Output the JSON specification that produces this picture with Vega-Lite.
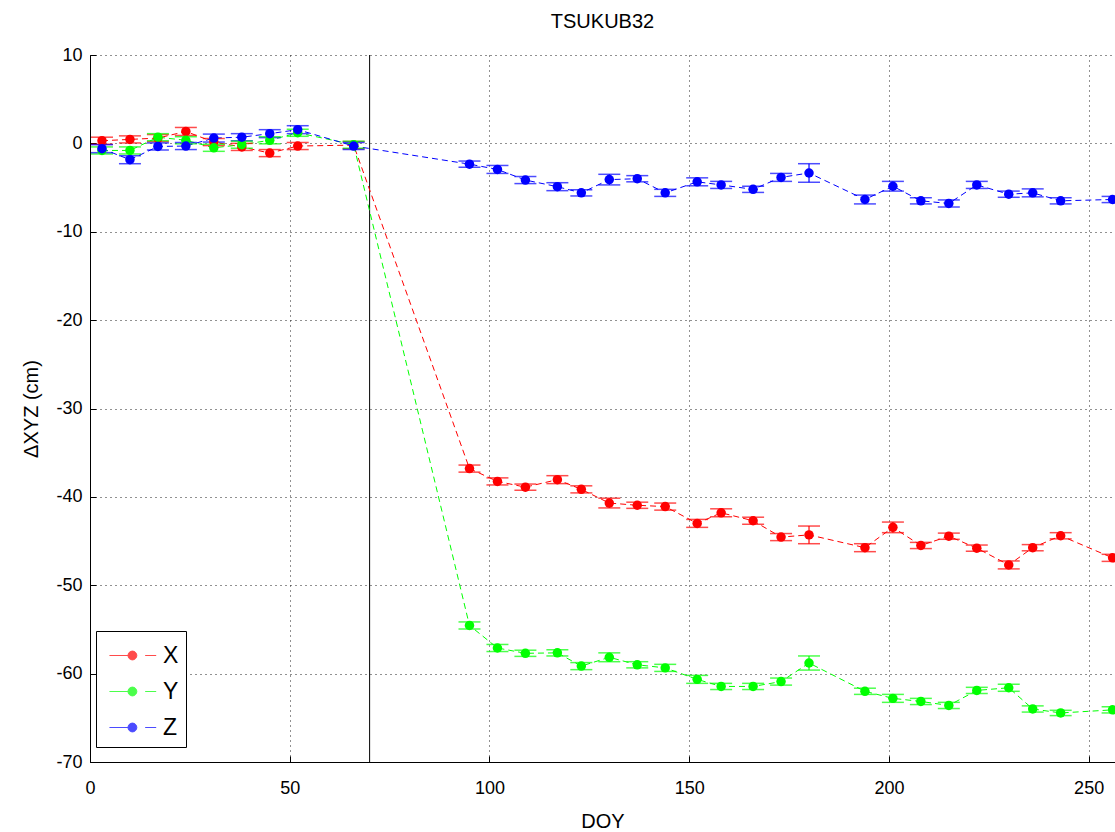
{
  "$schema": "https://vega.github.io/schema/vega-lite/v6.json",
  "width": 1025,
  "height": 707,
  "autosize": "none",
  "padding": {"left": 90, "top": 55, "right": 0, "bottom": 70},
  "background": "white",
  "title": {"text": "TSUKUB32", "font": "Liberation Sans", "fontSize": 20, "fontWeight": "normal", "color": "black", "anchor": "middle", "offset": 14},
  "config": {
    "view": {"stroke": null},
    "font": "Liberation Sans",
    "axis": {
      "labelFont": "Liberation Sans", "labelFontSize": 18, "labelColor": "black",
      "titleFont": "Liberation Sans", "titleFontSize": 20, "titleFontWeight": "normal", "titleColor": "black",
      "domainColor": "black", "domainWidth": 1, "tickColor": "black", "tickSize": -6, "tickWidth": 1,
      "gridColor": "#222222", "gridDash": [1, 4], "gridWidth": 1, "gridOpacity": 1
    }
  },
  "datasets": {
    "pts": [
      {"doy": 3, "comp": "X", "v": 0.3, "e": 0.4},
      {"doy": 10, "comp": "X", "v": 0.45, "e": 0.4},
      {"doy": 17, "comp": "X", "v": 0.6, "e": 0.4},
      {"doy": 24, "comp": "X", "v": 1.35, "e": 0.45},
      {"doy": 31, "comp": "X", "v": 0.15, "e": 0.4},
      {"doy": 38, "comp": "X", "v": -0.4, "e": 0.4},
      {"doy": 45, "comp": "X", "v": -1.1, "e": 0.4},
      {"doy": 52, "comp": "X", "v": -0.3, "e": 0.4},
      {"doy": 66, "comp": "X", "v": -0.2, "e": 0.4},
      {"doy": 95, "comp": "X", "v": -36.8, "e": 0.4},
      {"doy": 102, "comp": "X", "v": -38.25, "e": 0.4},
      {"doy": 109, "comp": "X", "v": -38.9, "e": 0.35},
      {"doy": 117, "comp": "X", "v": -38.05, "e": 0.45},
      {"doy": 123, "comp": "X", "v": -39.15, "e": 0.4},
      {"doy": 130, "comp": "X", "v": -40.7, "e": 0.55},
      {"doy": 137, "comp": "X", "v": -40.95, "e": 0.35},
      {"doy": 144, "comp": "X", "v": -41.1, "e": 0.4},
      {"doy": 152, "comp": "X", "v": -43.0, "e": 0.45},
      {"doy": 158, "comp": "X", "v": -41.8, "e": 0.45},
      {"doy": 166, "comp": "X", "v": -42.7, "e": 0.4},
      {"doy": 173, "comp": "X", "v": -44.55, "e": 0.4},
      {"doy": 180, "comp": "X", "v": -44.3, "e": 1.0},
      {"doy": 194, "comp": "X", "v": -45.75, "e": 0.45},
      {"doy": 201, "comp": "X", "v": -43.45, "e": 0.6},
      {"doy": 208, "comp": "X", "v": -45.5, "e": 0.35},
      {"doy": 215, "comp": "X", "v": -44.45, "e": 0.35},
      {"doy": 222, "comp": "X", "v": -45.8, "e": 0.35},
      {"doy": 230, "comp": "X", "v": -47.7, "e": 0.45},
      {"doy": 236, "comp": "X", "v": -45.75, "e": 0.35},
      {"doy": 243, "comp": "X", "v": -44.4, "e": 0.35},
      {"doy": 256, "comp": "X", "v": -46.9, "e": 0.4},
      {"doy": 3, "comp": "Y", "v": -0.8, "e": 0.4},
      {"doy": 10, "comp": "Y", "v": -0.8, "e": 0.4},
      {"doy": 17, "comp": "Y", "v": 0.7, "e": 0.4},
      {"doy": 24, "comp": "Y", "v": 0.35, "e": 0.4},
      {"doy": 31, "comp": "Y", "v": -0.5, "e": 0.4},
      {"doy": 38, "comp": "Y", "v": -0.15, "e": 0.4},
      {"doy": 45, "comp": "Y", "v": 0.35, "e": 0.4},
      {"doy": 52, "comp": "Y", "v": 1.2, "e": 0.4},
      {"doy": 66, "comp": "Y", "v": -0.15, "e": 0.4},
      {"doy": 95, "comp": "Y", "v": -54.55, "e": 0.4},
      {"doy": 102, "comp": "Y", "v": -57.1, "e": 0.4},
      {"doy": 109, "comp": "Y", "v": -57.7, "e": 0.35},
      {"doy": 117, "comp": "Y", "v": -57.65, "e": 0.35},
      {"doy": 123, "comp": "Y", "v": -59.15, "e": 0.4},
      {"doy": 130, "comp": "Y", "v": -58.15, "e": 0.5},
      {"doy": 137, "comp": "Y", "v": -59.0, "e": 0.35},
      {"doy": 144, "comp": "Y", "v": -59.35, "e": 0.4},
      {"doy": 152, "comp": "Y", "v": -60.65, "e": 0.45},
      {"doy": 158, "comp": "Y", "v": -61.45, "e": 0.35},
      {"doy": 166, "comp": "Y", "v": -61.45, "e": 0.35},
      {"doy": 173, "comp": "Y", "v": -60.9, "e": 0.4},
      {"doy": 180, "comp": "Y", "v": -58.8, "e": 0.8},
      {"doy": 194, "comp": "Y", "v": -62.0, "e": 0.35},
      {"doy": 201, "comp": "Y", "v": -62.8, "e": 0.45},
      {"doy": 208, "comp": "Y", "v": -63.15, "e": 0.35},
      {"doy": 215, "comp": "Y", "v": -63.6, "e": 0.35},
      {"doy": 222, "comp": "Y", "v": -61.9, "e": 0.35},
      {"doy": 230, "comp": "Y", "v": -61.6, "e": 0.4},
      {"doy": 236, "comp": "Y", "v": -64.0, "e": 0.35},
      {"doy": 243, "comp": "Y", "v": -64.45, "e": 0.3},
      {"doy": 256, "comp": "Y", "v": -64.1, "e": 0.35},
      {"doy": 3, "comp": "Z", "v": -0.6, "e": 0.45},
      {"doy": 10, "comp": "Z", "v": -1.85, "e": 0.45},
      {"doy": 17, "comp": "Z", "v": -0.35, "e": 0.4},
      {"doy": 24, "comp": "Z", "v": -0.3, "e": 0.4},
      {"doy": 31, "comp": "Z", "v": 0.6, "e": 0.45},
      {"doy": 38, "comp": "Z", "v": 0.7, "e": 0.4},
      {"doy": 45, "comp": "Z", "v": 1.1, "e": 0.45},
      {"doy": 52, "comp": "Z", "v": 1.55, "e": 0.45},
      {"doy": 66, "comp": "Z", "v": -0.3, "e": 0.4},
      {"doy": 95, "comp": "Z", "v": -2.35, "e": 0.35},
      {"doy": 102, "comp": "Z", "v": -2.95, "e": 0.45},
      {"doy": 109, "comp": "Z", "v": -4.15, "e": 0.4},
      {"doy": 117, "comp": "Z", "v": -4.9, "e": 0.45},
      {"doy": 123, "comp": "Z", "v": -5.6, "e": 0.35},
      {"doy": 130, "comp": "Z", "v": -4.1, "e": 0.6},
      {"doy": 137, "comp": "Z", "v": -4.0, "e": 0.35},
      {"doy": 144, "comp": "Z", "v": -5.6, "e": 0.4},
      {"doy": 152, "comp": "Z", "v": -4.35, "e": 0.45},
      {"doy": 158, "comp": "Z", "v": -4.7, "e": 0.4},
      {"doy": 166, "comp": "Z", "v": -5.2, "e": 0.35},
      {"doy": 173, "comp": "Z", "v": -3.85, "e": 0.45},
      {"doy": 180, "comp": "Z", "v": -3.35, "e": 1.05},
      {"doy": 194, "comp": "Z", "v": -6.35, "e": 0.5},
      {"doy": 201, "comp": "Z", "v": -4.85, "e": 0.55},
      {"doy": 208, "comp": "Z", "v": -6.5, "e": 0.35},
      {"doy": 215, "comp": "Z", "v": -6.8, "e": 0.4},
      {"doy": 222, "comp": "Z", "v": -4.7, "e": 0.4},
      {"doy": 230, "comp": "Z", "v": -5.75, "e": 0.35},
      {"doy": 236, "comp": "Z", "v": -5.6, "e": 0.45},
      {"doy": 243, "comp": "Z", "v": -6.5, "e": 0.35},
      {"doy": 256, "comp": "Z", "v": -6.35, "e": 0.35}
    ],
    "vline": [{"doy": 70}]
  },
  "layer": [
    {
      "data": {"name": "vline"},
      "mark": {"type": "rule", "color": "black", "strokeWidth": 1},
      "encoding": {
        "x": {"field": "doy", "type": "quantitative", "title": "DOY", "scale": {"domain": [0, 256.6], "nice": false, "zero": false}}
      }
    },
    {
      "data": {"name": "pts"},
      "mark": {"type": "line", "strokeDash": [6, 4], "strokeWidth": 1, "clip": true},
      "encoding": {
        "x": {"field": "doy", "type": "quantitative", "title": "DOY", "scale": {"domain": [0, 256.6], "nice": false, "zero": false},
              "axis": {"title": "DOY", "values": [0, 50, 100, 150, 200, 250], "labelPadding": 23, "titlePadding": 14, "labelFlush": false}},
        "y": {"field": "v", "type": "quantitative", "title": "ΔXYZ (cm)", "scale": {"domain": [-70, 10], "nice": false, "zero": false},
              "axis": {"title": "ΔXYZ (cm)", "values": [-70, -60, -50, -40, -30, -20, -10, 0, 10], "labelExpr": "'' + datum.value", "labelPadding": 14, "titlePadding": 14}},
        "color": {"field": "comp", "type": "nominal",
                  "scale": {"domain": ["X", "Y", "Z"], "range": ["#ff0000", "#00ff00", "#0000ff"]},
                  "legend": {"orient": "none", "legendX": 6, "legendY": 576, "title": null,
                             "strokeColor": "black", "fillColor": "white", "padding": 7,
                             "symbolType": "M-0.65,0L0.45,0M1.45,0L2.1,0M0.44,0A0.26,0.26 0 1,1 0.96,0A0.26,0.26 0 1,1 0.44,0Z",
                             "symbolSize": 1156, "symbolStrokeWidth": 1, "symbolDash": [], "symbolOpacity": 1,
                             "labelFont": "Liberation Sans", "labelFontSize": 23, "labelColor": "black",
                             "labelOffset": 25, "rowPadding": 6}}
      }
    },
    {
      "data": {"name": "pts"},
      "mark": {"type": "errorbar", "ticks": {"size": 22, "thickness": 1.5}, "rule": {"strokeWidth": 1.2}, "clip": true},
      "encoding": {
        "x": {"field": "doy", "type": "quantitative", "title": "DOY"},
        "y": {"field": "v", "type": "quantitative", "title": "ΔXYZ (cm)"},
        "yError": {"field": "e"},
        "color": {"field": "comp", "type": "nominal"}
      }
    },
    {
      "data": {"name": "pts"},
      "mark": {"type": "point", "filled": true, "size": 90, "opacity": 1, "clip": true},
      "encoding": {
        "x": {"field": "doy", "type": "quantitative", "title": "DOY"},
        "y": {"field": "v", "type": "quantitative", "title": "ΔXYZ (cm)"},
        "color": {"field": "comp", "type": "nominal"}
      }
    }
  ]
}
